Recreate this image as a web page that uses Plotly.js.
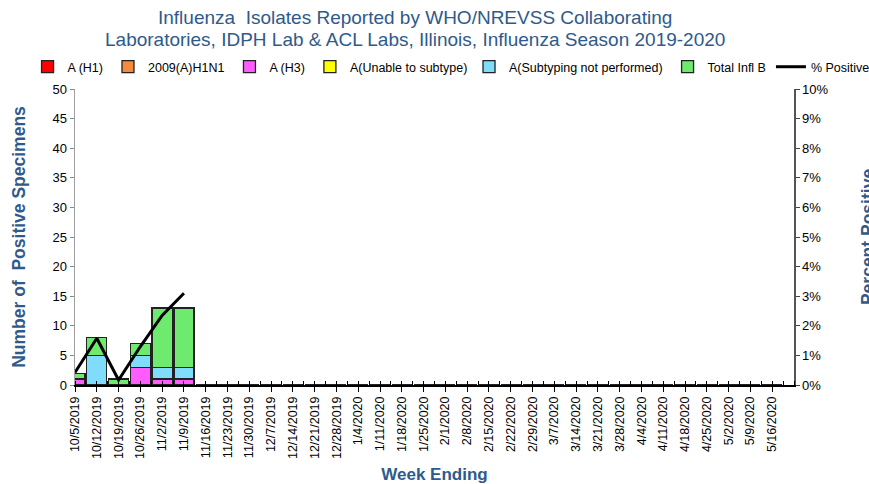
<!DOCTYPE html>
<html>
<head>
<meta charset="utf-8">
<script src="https://cdn.plot.ly/plotly-3.0.1.min.js"></script>
<style>html,body{margin:0;padding:0;background:#fff}#chart{width:869px;height:484px}</style>
</head>
<body>
<div id="chart"></div>
<script>
var weeks = ["10/5/2019","10/12/2019","10/19/2019","10/26/2019","11/2/2019","11/9/2019","11/16/2019","11/23/2019","11/30/2019","12/7/2019","12/14/2019","12/21/2019","12/28/2019","1/4/2020","1/11/2020","1/18/2020","1/25/2020","2/1/2020","2/8/2020","2/15/2020","2/22/2020","2/29/2020","3/7/2020","3/14/2020","3/21/2020","3/28/2020","4/4/2020","4/11/2020","4/18/2020","4/25/2020","5/2/2020","5/9/2020","5/16/2020"];
var aH1          = [0,0,0,0,0,0,0,0,0,0,0,0,0,0,0,0,0,0,0,0,0,0,0,0,0,0,0,0,0,0,0,0,0];
var aH1N1        = [0,0,0,0,0,0,0,0,0,0,0,0,0,0,0,0,0,0,0,0,0,0,0,0,0,0,0,0,0,0,0,0,0];
var aH3          = [1,0,0,3,1,1,0,0,0,0,0,0,0,0,0,0,0,0,0,0,0,0,0,0,0,0,0,0,0,0,0,0,0];
var aUnable      = [0,0,0,0,0,0,0,0,0,0,0,0,0,0,0,0,0,0,0,0,0,0,0,0,0,0,0,0,0,0,0,0,0];
var aNotPerf     = [0,5,0,2,2,2,0,0,0,0,0,0,0,0,0,0,0,0,0,0,0,0,0,0,0,0,0,0,0,0,0,0,0];
var fluB         = [1,3,1,2,10,10,0,0,0,0,0,0,0,0,0,0,0,0,0,0,0,0,0,0,0,0,0,0,0,0,0,0,0];
var pctPositive  = [0.42,1.58,0.17,1.3,2.35,3.1,null,null,null,null,null,null,null,null,null,null,null,null,null,null,null,null,null,null,null,null,null,null,null,null,null,null,null];
var titleLines = ["Influenza  Isolates Reported by WHO/NREVSS Collaborating",
                  "Laboratories, IDPH Lab & ACL Labs, Illinois, Influenza Season 2019-2020"];

var xi = weeks.map(function(_, i){ return i; });
var blue = '#2E5A8C';
function bar(name, y, color, lg){
  return {type:'bar', name:name, x:xi, y:y, width:0.92, legend:lg,
    marker:{color:color, line:{color:'#222', width:1.3}}, hoverinfo:'y+name'};
}
var data = [
  bar('A (H1)', aH1, '#FF0000', 'legend'),
  bar('2009(A)H1N1', aH1N1, '#F58A3C', 'legend'),
  bar('A (H3)', aH3, '#FF5CFF', 'legend'),
  bar('A(Unable to subtype)', aUnable, '#FFFF00', 'legend'),
  bar('A(Subtyping not performed)', aNotPerf, '#7FDDFB', 'legend2'),
  bar('Total Infl B', fluB, '#6EEB6E', 'legend2'),
  {type:'scatter', mode:'lines', name:'% Positive', x:xi, y:pctPositive, yaxis:'y2', legend:'legend2',
   line:{color:'#000', width:3}}
];
var legFont = {size:12.5, family:'Arial, Liberation Sans, sans-serif', color:'#000'};
var layout = {
  width:869, height:484,
  margin:{l:75, r:75, t:89, b:99, autoexpand:false},
  paper_bgcolor:'#fff', plot_bgcolor:'#fff',
  barmode:'stack', bargap:0.05,
  font:{family:'Arial, Liberation Sans, sans-serif', size:13, color:'#000'},
  showlegend:true,
  legend:{orientation:'h', x:-0.066, xanchor:'left', y:1.074, yanchor:'middle',
    font:legFont, traceorder:'normal', itemwidth:30, tracegroupgap:0, bgcolor:'rgba(0,0,0,0)'},
  legend2:{orientation:'h', x:0.548, xanchor:'left', y:1.074, yanchor:'middle',
    font:legFont, traceorder:'normal', itemwidth:30, tracegroupgap:0, bgcolor:'rgba(0,0,0,0)'},
  xaxis:{type:'linear', range:[0,33], tickmode:'array', tickvals:xi, ticktext:weeks,
    tickangle:-90, ticks:'outside', ticklen:5, tickcolor:'#000', tickwidth:1,
    minor:{dtick:0.5, tick0:0, ticks:'inside', ticklen:4, tickcolor:'#000'},
    showline:true, linecolor:'#000', linewidth:1.5, showgrid:false, zeroline:false,
    tickfont:{size:12.5}, automargin:false,
    title:{text:'<b>Week Ending</b>', font:{size:17, color:blue}, standoff:10}},
  yaxis:{range:[0,50], dtick:5, ticks:'outside', ticklen:4, tickcolor:'#888',
    showline:true, linecolor:'#A0A0A0', linewidth:1.5, showgrid:false, zeroline:false,
    tickfont:{size:13}, automargin:false,
    title:{text:'<b>Number of  Positive Specimens</b>', font:{size:17.5, color:blue}, standoff:22}},
  yaxis2:{overlaying:'y', side:'right', range:[0,10], dtick:1, ticksuffix:'%',
    ticks:'outside', ticklen:4, tickcolor:'#444',
    showline:true, linecolor:'#555', linewidth:1.5, showgrid:false, zeroline:false,
    tickfont:{size:13}, automargin:false},
  annotations:[
    {text:titleLines[0], xref:'paper', yref:'paper', x:0.473, y:1 + (89-18)/296,
     xanchor:'center', yanchor:'middle', showarrow:false, font:{size:19, color:blue}},
    {text:titleLines[1], xref:'paper', yref:'paper', x:0.473, y:1 + (89-40)/296,
     xanchor:'center', yanchor:'middle', showarrow:false, font:{size:19, color:blue}},
    {text:'<b>Percent Positive</b>', xref:'paper', yref:'paper', x:1.103, y:0.5,
    xanchor:'center', yanchor:'middle', textangle:-90, showarrow:false,
    font:{size:17.5, color:blue}}]
};
Plotly.newPlot('chart', data, layout, {displayModeBar:false, staticPlot:true});
</script>
</body>
</html>
